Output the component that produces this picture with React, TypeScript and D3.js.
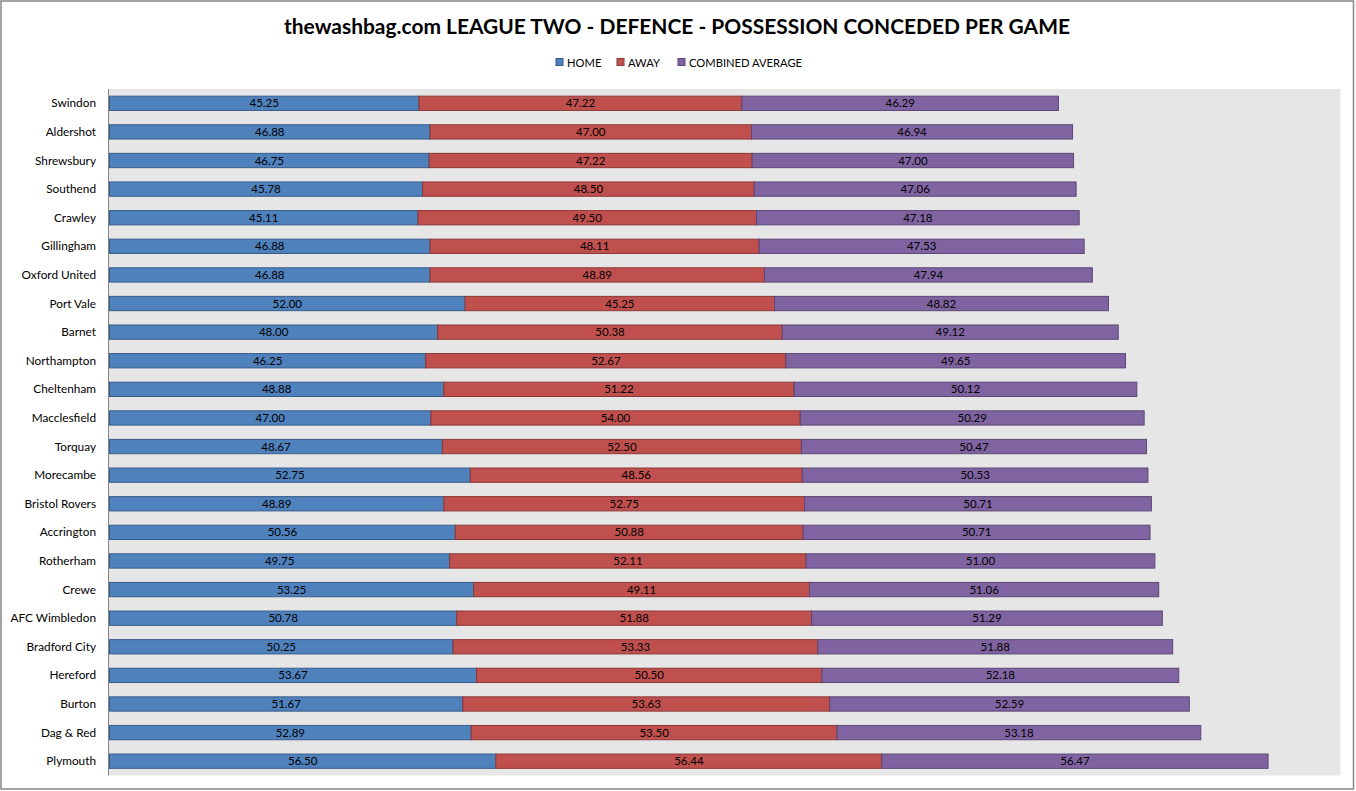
import React from "react";
import * as d3 from "d3";

const teams = ["Swindon","Aldershot","Shrewsbury","Southend","Crawley","Gillingham","Oxford United","Port Vale","Barnet","Northampton","Cheltenham","Macclesfield","Torquay","Morecambe","Bristol Rovers","Accrington","Rotherham","Crewe","AFC Wimbledon","Bradford City","Hereford","Burton","Dag & Red","Plymouth"];
const home = [45.25,46.88,46.75,45.78,45.11,46.88,46.88,52.00,48.00,46.25,48.88,47.00,48.67,52.75,48.89,50.56,49.75,53.25,50.78,50.25,53.67,51.67,52.89,56.50];
const away = [47.22,47.00,47.22,48.50,49.50,48.11,48.89,45.25,50.38,52.67,51.22,54.00,52.50,48.56,52.75,50.88,52.11,49.11,51.88,53.33,50.50,53.63,53.50,56.44];
const combined = [46.29,46.94,47.00,47.06,47.18,47.53,47.94,48.82,49.12,49.65,50.12,50.29,50.47,50.53,50.71,50.71,51.00,51.06,51.29,51.88,52.18,52.59,53.18,56.47];
const seriesNames = ["HOME","AWAY","COMBINED AVERAGE"];
const title = "thewashbag.com LEAGUE TWO - DEFENCE - POSSESSION CONCEDED PER GAME";

const fills = ["#4F81BD","#C0504D","#8064A2"];
const strokes = ["#385D8A","#8C3836","#5C4776"];
const FONT = "Lato, 'Open Sans', sans-serif";

export default function App() {
  const W = 1356, H = 791;
  const plot = { left: 108.5, right: 1340.5, top: 89, bottom: 775.5 };
  const x = d3.scaleLinear().domain([0, 180]).range([plot.left + 1, plot.right]);
  const y = d3.scaleBand<string>().domain(teams).range([plot.top, plot.bottom]).paddingInner(0.5).paddingOuter(0.25);

  const rows = teams.map((t, i) => ({ team: t, vals: [home[i], away[i], combined[i]] }));
  const stack = d3.stack<any>().keys(["0","1","2"]).value((d: any, k: string) => d.vals[+k]);
  const stacked = stack(rows);

  const legendItems = [
    { x: 555, label: seriesNames[0] },
    { x: 616, label: seriesNames[1] },
    { x: 677, label: seriesNames[2] },
  ];

  return (
    <svg width={W} height={H} style={{ position: "absolute", left: 0, top: 0 }} fontFamily={FONT}>
      <rect x={0} y={0} width={W} height={H} fill="#fff" />
      <rect x={1} y={1} width={1352.5} height={788} fill="#fff" stroke="#878787" strokeWidth={1.5} />
      <text x={677} y={34} textAnchor="middle" fontSize={20} fontWeight="bold" fill="#000" textLength={786} lengthAdjust="spacingAndGlyphs">{title}</text>
      {legendItems.map((l, i) => (
        <g key={i}>
          <rect x={l.x + 1} y={58.5} width={7} height={7} fill={fills[i]} stroke={strokes[i]} strokeWidth={1} />
          <text x={l.x + 12} y={66.5} fontSize={11.2} fill="#000">{l.label}</text>
        </g>
      ))}
      <rect x={plot.left} y={plot.top} width={plot.right - plot.left} height={plot.bottom - plot.top} fill="#E6E6E6" />
      <line x1={plot.left} x2={plot.left} y1={plot.top} y2={plot.bottom} stroke="#868686" strokeWidth={1} />
      {stacked.map((s, si) => (
        <g key={si}>
          {s.map((d: any, i: number) => {
            const x0 = x(d[0]), x1 = x(d[1]);
            const yy = y(teams[i])!;
            return (
              <g key={i}>
                <rect x={x0} y={yy} width={x1 - x0} height={y.bandwidth()} fill={fills[si]} stroke={strokes[si]} strokeWidth={1} />
                <text x={(x0 + x1) / 2} y={yy + y.bandwidth() / 2 + 4} textAnchor="middle" fontSize={11.5} fill="#000">{d.data.vals[si].toFixed(2)}</text>
              </g>
            );
          })}
        </g>
      ))}
      {teams.map((t) => (
        <text key={t} x={96} y={y(t)! + y.bandwidth() / 2 + 4} textAnchor="end" fontSize={11.8} fill="#000">{t}</text>
      ))}
    </svg>
  );
}
